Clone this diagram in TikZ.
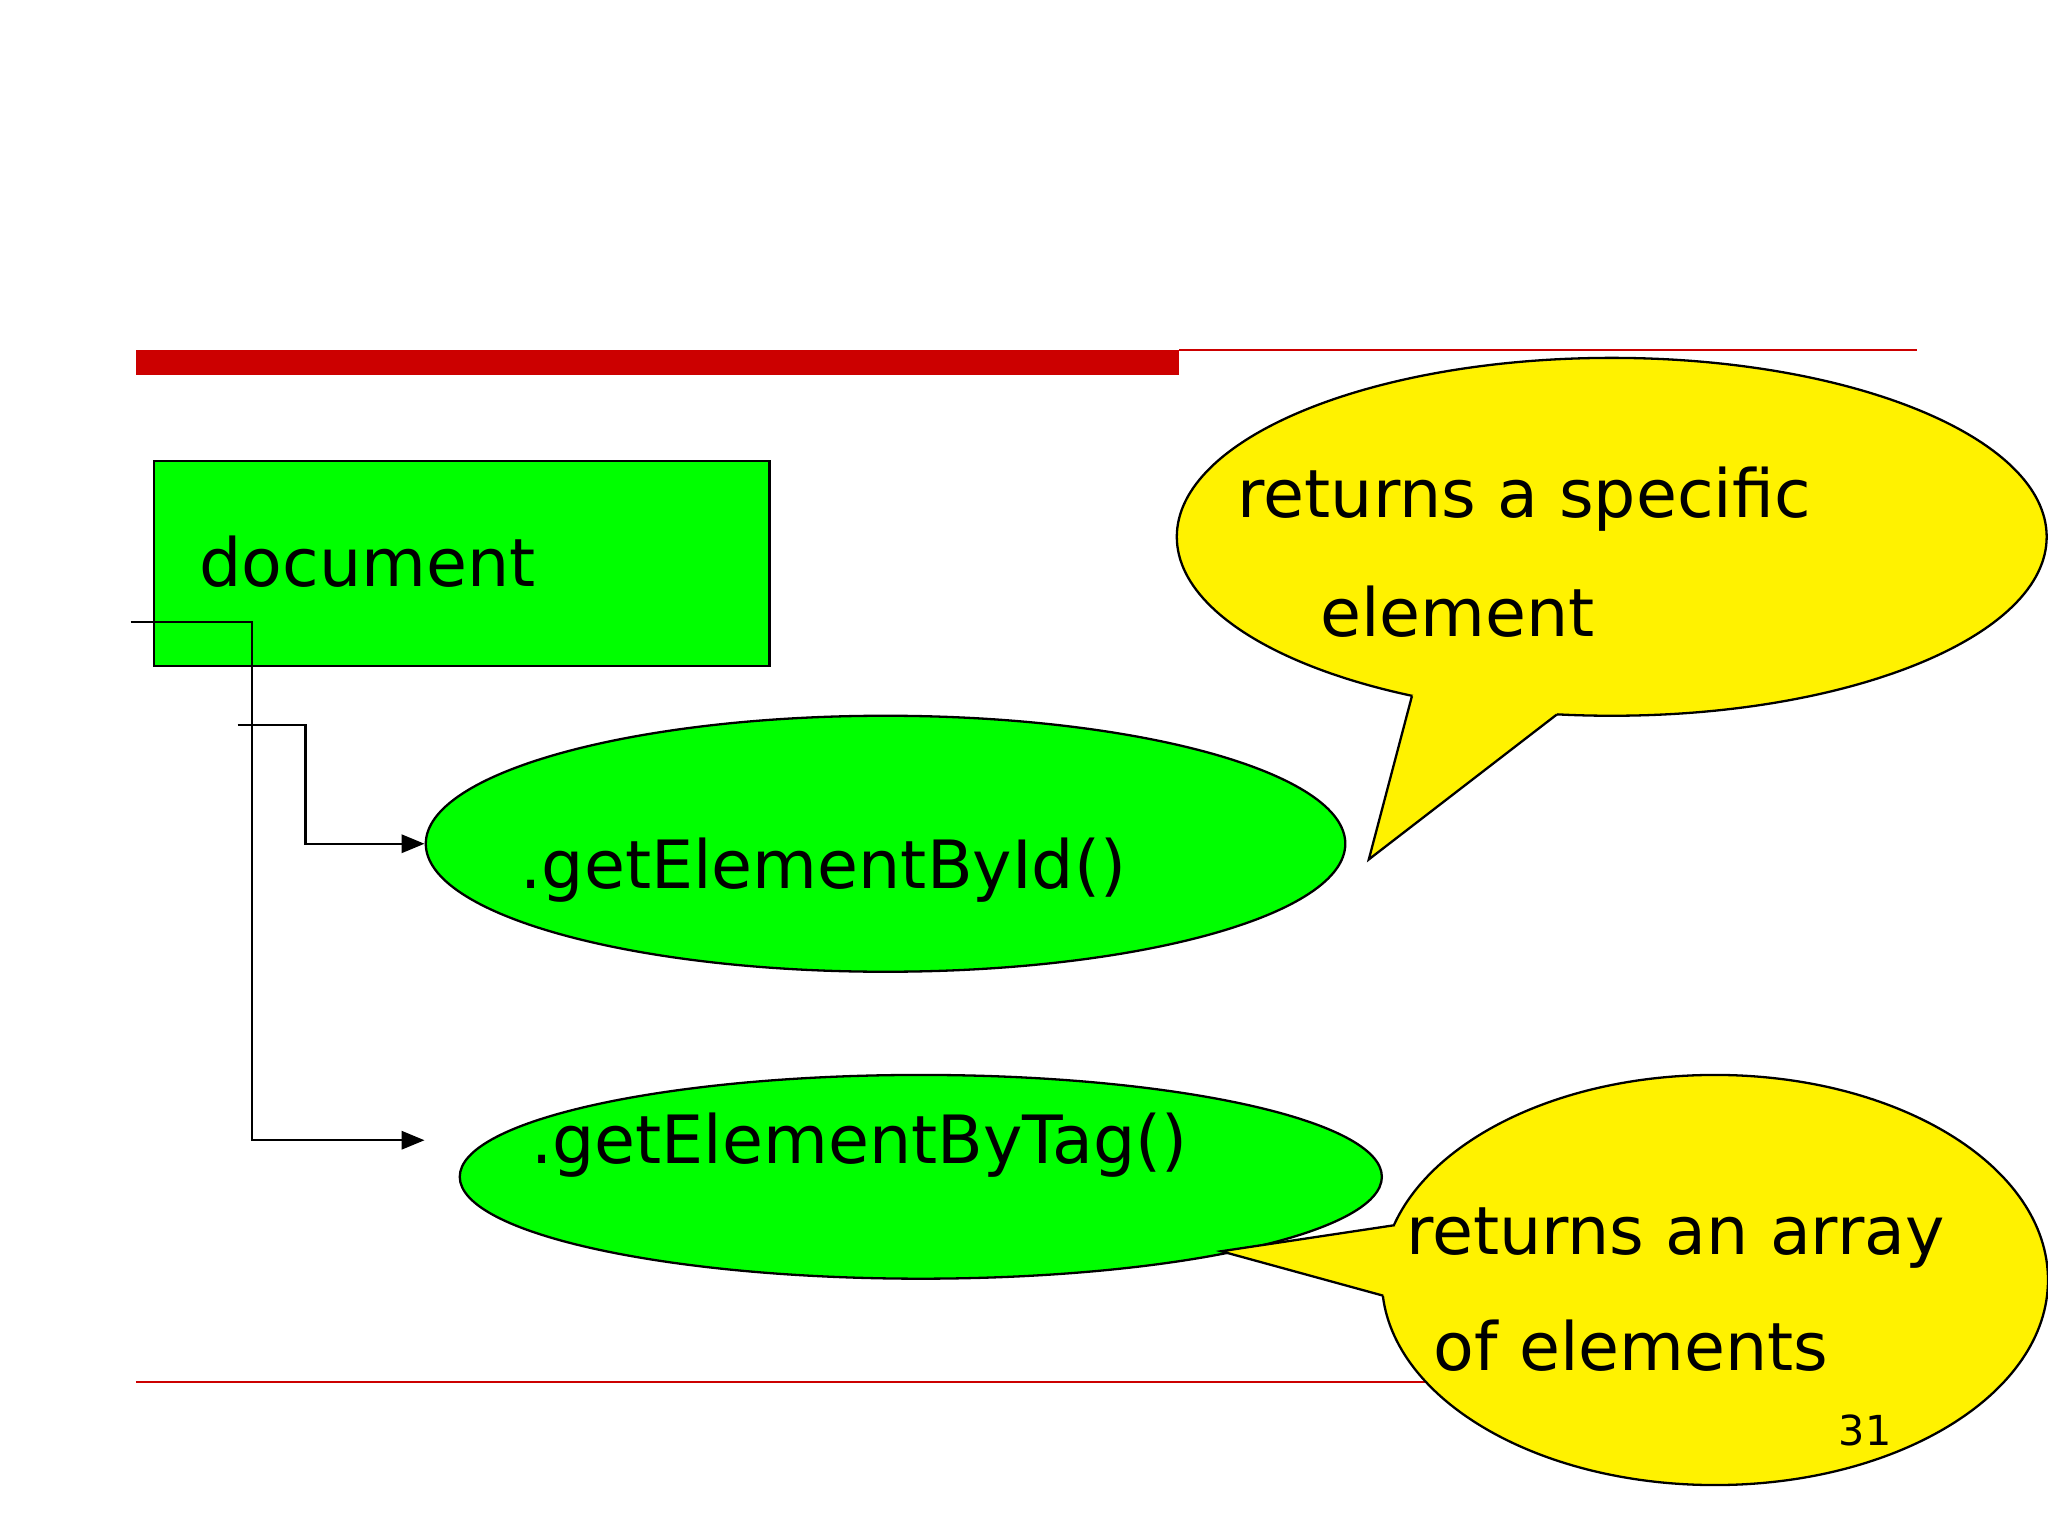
\documentclass[tikz,border=0pt]{standalone}
\usepackage{fontspec}
\setmainfont{DejaVu Sans}
\usetikzlibrary{arrows.meta}
\begin{document}
\begin{tikzpicture}[x=0.01cm,y=-0.01cm,
  big/.style={font=\fontsize{14.5}{17}\selectfont,inner sep=0pt,anchor=west},
  conn/.style={line width=0.5pt,-{Triangle[length=5pt,width=4pt]}},
  green/.style={fill=green,draw=black,line width=0.5pt},
  yell/.style={fill=yellow,draw=black,line width=0.5pt}]
\useasboundingbox (0,0) rectangle (1568,1176);
\fill[red!80!black] (104,268) rectangle (903,287);
\draw[red!80!black,line width=0.4pt] (903,268) -- (1468,268);
\draw[red!80!black,line width=0.3pt] (104,1058) -- (1200,1058);
% document box
\node[green,minimum width=4.71cm,minimum height=1.57cm,anchor=north west] (doc) at (117,352) {};
\node[big] (doct) at (152,430) {document};
% ellipses
\draw[green] (678,646) ellipse [x radius=352,y radius=98];
\node[big] (e1) at (398,666) {.getElementById()};
\draw[green] (705,901) ellipse [x radius=353,y radius=78];
\node[big] (e2) at (406,877) {.getElementByTag()};
\coordinate (a1) at (325,646);
\coordinate (a2) at (325,873);
\coordinate (s1) at (100,476);
\coordinate (s2) at (182,555);
\draw[conn] (s1) -- (193,476) -- (193,873) -- (a2);
\draw[conn] (s2) -- (234,555) -- (234,646) -- (a1);
% callout 1
\draw[yell] (1234,411) ellipse [x radius=333,y radius=137];
\fill[yellow] (1081,533) -- (1048,658) -- (1192,547) -- (1234,411) -- cycle;
\draw[line width=0.5pt] (1081,533) -- (1048,658) -- (1192,547);
\node[big] (c1a) at (947,382) {returns a specific};
\node[big] (c1b) at (1010,468) {element};
% callout 2
\draw[yell] (1313,980) ellipse [x radius=255,y radius=157];
\fill[yellow] (1068,938) -- (935,958) -- (1059,992) -- (1313,980) -- cycle;
\draw[line width=0.5pt] (1068,938) -- (935,958) -- (1059,992);
\node[big] (c2a) at (1076,948) {returns an array};
\node[big] (c2b) at (1097,1030) {of elements};
\node[font=\fontsize{9}{11}\selectfont] (pg) at (1428,1095) {31};
\end{tikzpicture}
\end{document}
